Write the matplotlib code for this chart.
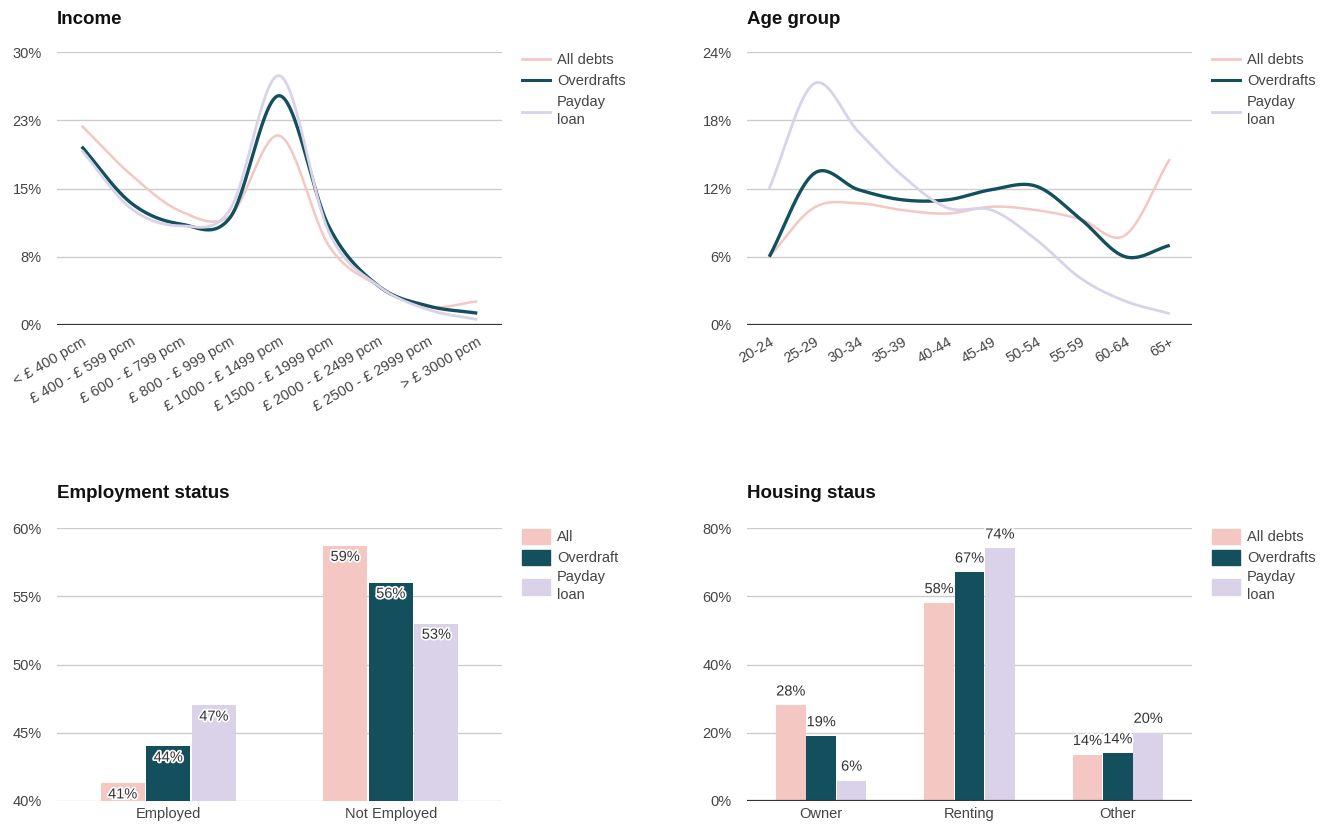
import numpy as np
import matplotlib
matplotlib.use("Agg")
import matplotlib.pyplot as plt
import matplotlib.patheffects as pe
from matplotlib.patches import Patch
from matplotlib.lines import Line2D

plt.rcParams['font.family'] = ['Liberation Sans', 'DejaVu Sans']

# ---- data ----
income_labels = ["< £ 400 pcm", "£ 400 - £ 599 pcm", "£ 600 - £ 799 pcm", "£ 800 - £ 999 pcm",
                 "£ 1000 - £ 1499 pcm", "£ 1500 - £ 1999 pcm", "£ 2000 - £ 2499 pcm",
                 "£ 2500 - £ 2999 pcm", "> £ 3000 pcm"]
income_all = [21.9, 16.5, 12.5, 12.0, 20.8, 8.7, 4.3, 2.0, 2.6]
income_overdraft = [19.6, 13.4, 11.1, 11.8, 25.2, 10.8, 4.3, 2.1, 1.3]
income_payday = [19.2, 12.8, 10.9, 12.7, 27.4, 10.2, 4.3, 1.7, 0.6]
income_ticks = [0, 7.5, 15, 22.5, 30]
income_ticklabels = ["0%", "8%", "15%", "23%", "30%"]

age_labels = ["20-24", "25-29", "30-34", "35-39", "40-44", "45-49", "50-54", "55-59", "60-64", "65+"]
age_all = [6.0, 10.3, 10.7, 10.1, 9.8, 10.4, 10.1, 9.3, 7.9, 14.6]
age_overdraft = [6.0, 13.3, 11.9, 11.0, 11.0, 11.9, 12.2, 9.3, 6.0, 7.0]
age_payday = [12.0, 21.2, 17.0, 13.1, 10.3, 10.1, 7.5, 4.1, 2.1, 1.0]
age_ticks = [0, 6, 12, 18, 24]

emp_labels = ["Employed", "Not Employed"]
emp_all = [41.3, 58.7]
emp_overdraft = [44, 56]
emp_payday = [47, 53]
emp_ticks = [40, 45, 50, 55, 60]

house_labels = ["Owner", "Renting", "Other"]
house_all = [28, 58, 13.5]
house_overdraft = [19, 67, 14]
house_payday = [6, 74, 20]
house_ticks = [0, 20, 40, 60, 80]

PINK = "#f4c7c3"
DARK = "#134f5c"
LAV = "#d9d2e9"
GRID = "#cccccc"
TXT = "#444444"


def smooth(y, n=30):
    # Catmull-Rom curve through the points (for drawing only)
    y = np.asarray(y, float)
    m = np.gradient(y)
    xs, ys = [], []
    for i in range(len(y) - 1):
        t = np.linspace(0, 1, n, endpoint=False)
        h00 = 2 * t**3 - 3 * t**2 + 1
        h10 = t**3 - 2 * t**2 + t
        h01 = -2 * t**3 + 3 * t**2
        h11 = t**3 - t**2
        xs.append(i + t)
        ys.append(h00 * y[i] + h10 * m[i] + h01 * y[i + 1] + h11 * m[i + 1])
    xs.append([len(y) - 1])
    ys.append([y[-1]])
    return np.concatenate(xs), np.concatenate(ys)


def style_axis(ax, ticks, ticklabels, baseline=True):
    ax.set_yticks(ticks)
    ax.set_yticklabels(ticklabels)
    ax.set_ylim(ticks[0], ticks[-1])
    for s in ax.spines.values():
        s.set_visible(False)
    ax.tick_params(length=0, labelsize=10.5, colors=TXT)
    ax.tick_params(axis='y', pad=11)
    for t in ticks:
        ax.axhline(t, color=GRID, lw=1, zorder=0)
    if baseline:
        ax.axhline(ticks[0], color="#333333", lw=1.6, zorder=5)


def fix_legend(leg):
    for t in leg.get_texts():
        t.set_color(TXT)
        t.set_linespacing(1.35)


fig = plt.figure(figsize=(13.22, 8.26), dpi=100)

W = 445 / 1322
H = 273 / 826
ax_inc = fig.add_axes([57 / 1322, 1 - 325 / 826, W, H])
ax_age = fig.add_axes([747 / 1322, 1 - 325 / 826, W, H])
ax_emp = fig.add_axes([57 / 1322, 1 - 801 / 826, W, H])
ax_house = fig.add_axes([747 / 1322, 1 - 801 / 826, W, H])

titles = [(57, 19, "Income"), (747, 19, "Age group"), (57, 494, "Employment status"), (747, 494, "Housing staus")]
for x, y, t in titles:
    fig.text(x / 1322, 1 - y / 826, t, fontsize=13.5, fontweight='bold', va='center', ha='left', color="#111111")


def line_chart(ax, labels, series, ticks, ticklabels):
    for vals, col, lw in series:
        xs, ys = smooth(vals)
        ax.plot(xs, ys, color=col, lw=lw, solid_capstyle='butt')
    ax.set_xlim(-0.5, len(labels) - 0.5)
    ax.set_xticks(range(len(labels)))
    ax.set_xticklabels(labels, rotation=30, ha='right', rotation_mode='anchor')
    style_axis(ax, ticks, ticklabels)
    ax.tick_params(axis='x', pad=7, labelsize=10.5)
    handles = [Line2D([], [], color=PINK, lw=2), Line2D([], [], color=DARK, lw=2.2),
               Line2D([], [], color=LAV, lw=2)]
    leg = ax.legend(handles, ["All debts", "Overdrafts", "Payday\nloan"], loc='upper left',
                    bbox_to_anchor=(1.015, 1.045), frameon=False, fontsize=10.5, handlelength=1.9,
                    handletextpad=0.5, labelspacing=0.5)
    fix_legend(leg)


line_chart(ax_inc, income_labels,
           [(income_all, PINK, 1.8), (income_overdraft, DARK, 2.4), (income_payday, LAV, 2)],
           income_ticks, income_ticklabels)
line_chart(ax_age, age_labels,
           [(age_all, PINK, 1.8), (age_overdraft, DARK, 2.4), (age_payday, LAV, 2)],
           age_ticks, [f"{t}%" for t in age_ticks])

stroke = [pe.withStroke(linewidth=2.5, foreground="white")]


def bar_chart(ax, labels, series, ticks, names, baseline, inside):
    n = len(labels)
    x = np.arange(n)
    bw = 0.205
    for k, (vals, col) in enumerate(series):
        pos = x + (k - 1) * bw
        ax.bar(pos, np.array(vals) - ticks[0], bottom=ticks[0], width=bw * 0.97, color=col, zorder=3)
        for p, v in zip(pos, vals):
            if inside:
                ax.annotate(f"{v:.0f}%", (p, v), xytext=(0, -3), textcoords='offset points',
                            ha='center', va='top', fontsize=10.5, color="#333333",
                            path_effects=stroke, zorder=6)
            else:
                ax.annotate(f"{v:.0f}%", (p, v), xytext=(0, 5), textcoords='offset points',
                            ha='center', va='bottom', fontsize=10.5, color="#333333",
                            path_effects=stroke, zorder=6)
    ax.set_xlim(-0.5, n - 0.5)
    ax.set_xticks(x)
    ax.set_xticklabels(labels)
    style_axis(ax, ticks, [f"{t}%" for t in ticks], baseline=baseline)
    ax.tick_params(axis='x', pad=4)
    handles = [Patch(color=c) for _, c in series]
    leg = ax.legend(handles, names, loc='upper left', bbox_to_anchor=(1.015, 1.045), frameon=False,
                    fontsize=10.5, handlelength=1.9, handleheight=1.25, handletextpad=0.5,
                    labelspacing=0.35)
    fix_legend(leg)


bar_chart(ax_emp, emp_labels, [(emp_all, PINK), (emp_overdraft, DARK), (emp_payday, LAV)],
          emp_ticks, ["All", "Overdraft", "Payday\nloan"], baseline=False, inside=True)
bar_chart(ax_house, house_labels, [(house_all, PINK), (house_overdraft, DARK), (house_payday, LAV)],
          house_ticks, ["All debts", "Overdrafts", "Payday\nloan"], baseline=True, inside=False)

fig.savefig("out.png", dpi=100)
